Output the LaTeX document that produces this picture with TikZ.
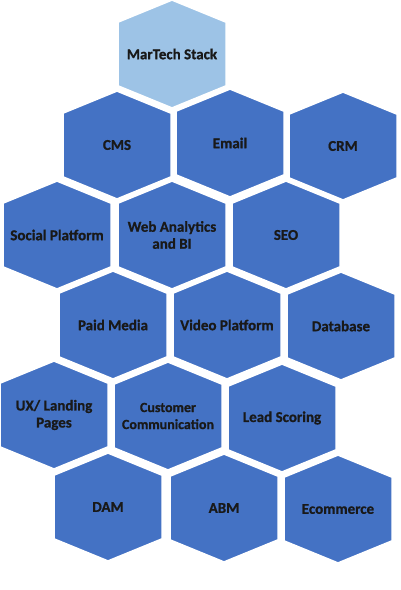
\documentclass[tikz,border=0pt]{standalone}
\usepackage{fontspec}
\setmainfont{Carlito}[BoldFeatures={FakeBold=0.8}]
\definecolor{hexblue}{HTML}{4472C4}
\definecolor{hexlight}{HTML}{9DC3E6}
\tikzset{
  hexbox/.style={fill=hexblue, draw=white, line width=3.5pt, line join=miter},
  hexlabel/.style={font=\bfseries\fontsize{15}{17}\selectfont, text=black!90, align=center, inner sep=0pt},
}
\newcommand\hexagonat[5]{%
  \draw[hexbox,#4] (#2,#3) ++(0,-55) -- ++(55,22.5) -- ++(0,65) -- ++(-55,22.5) -- ++(-55,-22.5) -- ++(0,-65) -- cycle;
  \node[hexlabel] (#1) at (#2,#3) {#5};}
\begin{document}
\begin{tikzpicture}[x=1pt,y=-1pt]
\useasboundingbox (0,0) rectangle (400,590);
\hexagonat{martech}{172}{54}{fill=hexlight}{MarTech Stack}
\hexagonat{cms}{117}{145}{}{CMS}
\hexagonat{email}{230}{143}{}{Email}
\hexagonat{crm}{343}{146}{}{CRM}
\hexagonat{social}{57}{235}{}{Social Platform}
\hexagonat{web}{172}{235}{}{Web Analytics\\and BI}
\hexagonat{seo}{286}{235}{}{SEO}
\hexagonat{paid}{113}{325}{}{Paid Media}
\hexagonat{video}{227}{325}{}{Video Platform}
\hexagonat{database}{341}{326}{}{Database}
\hexagonat{ux}{54}{415}{}{UX/ Landing\\Pages}
\hexagonat{customer}{168}{416}{}{{\fontsize{14}{14}\selectfont Customer}\\{\fontsize{14}{14}\selectfont Communication}}
\hexagonat{lead}{282}{418}{}{Lead Scoring}
\hexagonat{dam}{108}{507}{}{DAM}
\hexagonat{abm}{224}{508}{}{ABM}
\hexagonat{ecommerce}{338}{509}{}{Ecommerce}
\end{tikzpicture}
\end{document}
